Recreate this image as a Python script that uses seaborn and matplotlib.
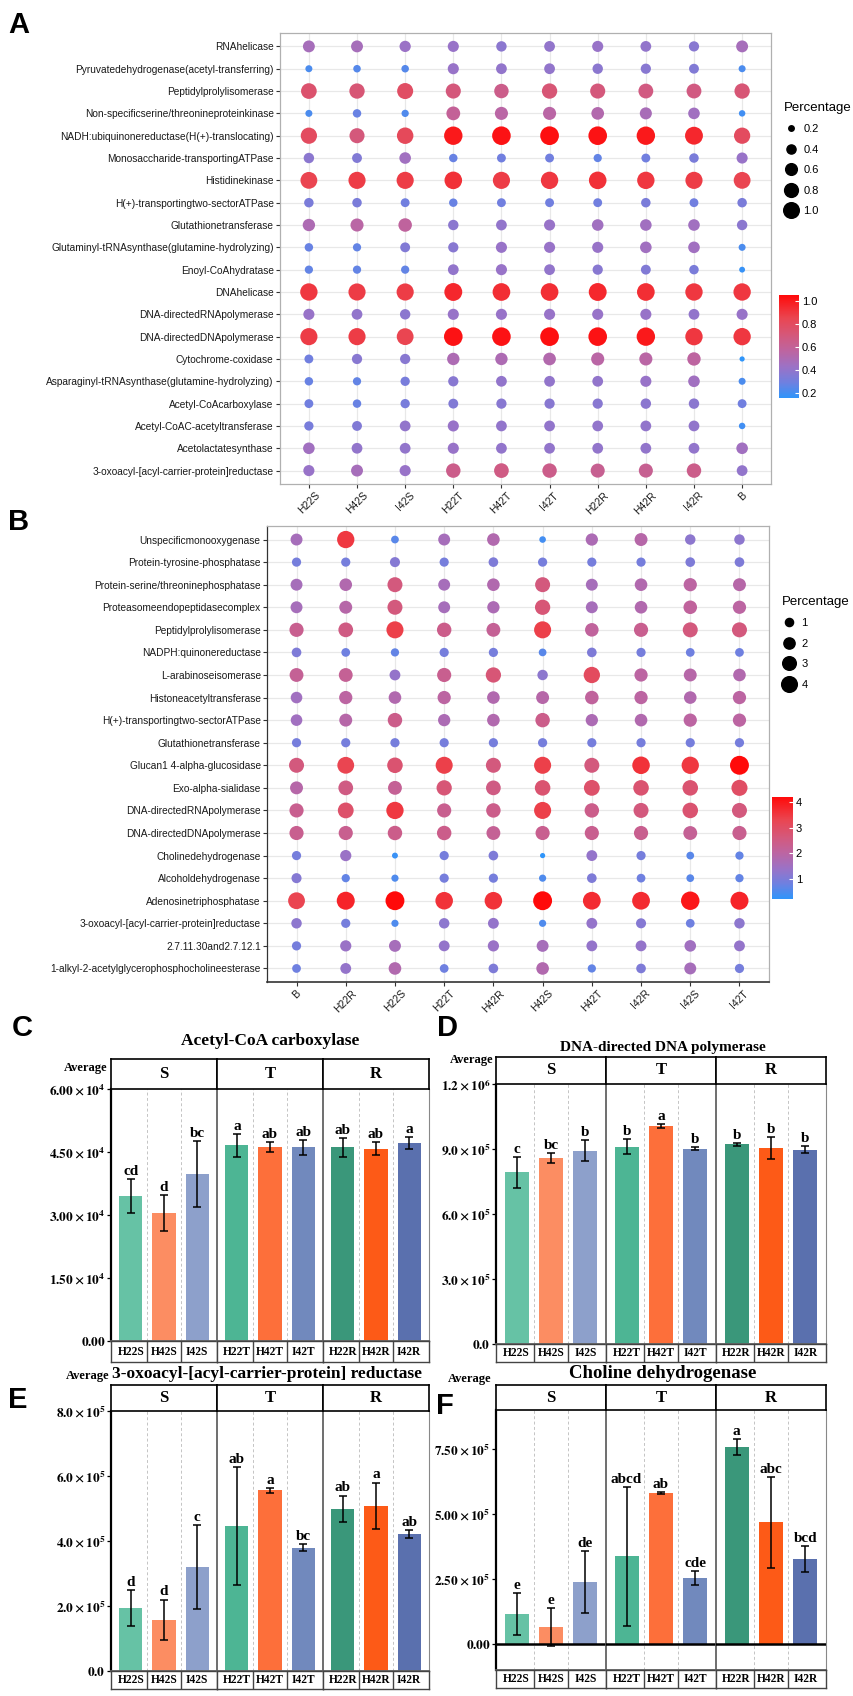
import numpy as np
import pandas as pd
import matplotlib
matplotlib.use("Agg")
import matplotlib.pyplot as plt
import seaborn as sns
from matplotlib.colors import LinearSegmentedColormap, Normalize
from matplotlib.cm import ScalarMappable
from matplotlib.lines import Line2D

# ---------------- data: panel A (dot plot, percentage) ----------------
A_cols = ["H22S", "H42S", "I42S", "H22T", "H42T", "I42T", "H22R", "H42R", "I42R", "B"]
A_rows = [
    "RNAhelicase",
    "Pyruvatedehydrogenase(acetyl-transferring)",
    "Peptidylprolylisomerase",
    "Non-specificserine/threonineproteinkinase",
    "NADH:ubiquinonereductase(H(+)-translocating)",
    "Monosaccharide-transportingATPase",
    "Histidinekinase",
    "H(+)-transportingtwo-sectorATPase",
    "Glutathionetransferase",
    "Glutaminyl-tRNAsynthase(glutamine-hydrolyzing)",
    "Enoyl-CoAhydratase",
    "DNAhelicase",
    "DNA-directedRNApolymerase",
    "DNA-directedDNApolymerase",
    "Cytochrome-coxidase",
    "Asparaginyl-tRNAsynthase(glutamine-hydrolyzing)",
    "Acetyl-CoAcarboxylase",
    "Acetyl-CoAC-acetyltransferase",
    "Acetolactatesynthase",
    "3-oxoacyl-[acyl-carrier-protein]reductase",
]
A_values = [
    [0.47, 0.47, 0.43, 0.42, 0.38, 0.40, 0.42, 0.40, 0.37, 0.47],
    [0.22, 0.24, 0.24, 0.42, 0.40, 0.40, 0.38, 0.37, 0.35, 0.22],
    [0.75, 0.72, 0.78, 0.70, 0.65, 0.72, 0.70, 0.68, 0.68, 0.72],
    [0.22, 0.28, 0.23, 0.60, 0.55, 0.55, 0.52, 0.48, 0.45, 0.20],
    [0.80, 0.70, 0.82, 1.00, 1.02, 1.03, 1.02, 1.00, 0.95, 0.80],
    [0.38, 0.35, 0.45, 0.28, 0.30, 0.30, 0.27, 0.30, 0.33, 0.42],
    [0.85, 0.88, 0.88, 0.92, 0.88, 0.90, 0.92, 0.90, 0.88, 0.85],
    [0.33, 0.33, 0.30, 0.28, 0.30, 0.30, 0.30, 0.33, 0.30, 0.33],
    [0.50, 0.55, 0.58, 0.38, 0.40, 0.42, 0.45, 0.45, 0.45, 0.38],
    [0.28, 0.27, 0.35, 0.37, 0.42, 0.42, 0.42, 0.45, 0.45, 0.22],
    [0.27, 0.27, 0.27, 0.40, 0.42, 0.40, 0.37, 0.35, 0.33, 0.18],
    [0.90, 0.88, 0.88, 0.95, 0.93, 0.93, 0.95, 0.93, 0.90, 0.90],
    [0.42, 0.40, 0.38, 0.42, 0.42, 0.42, 0.42, 0.42, 0.40, 0.42],
    [0.88, 0.88, 0.85, 1.02, 1.02, 1.03, 1.02, 1.00, 0.90, 0.90],
    [0.30, 0.37, 0.37, 0.50, 0.50, 0.52, 0.55, 0.55, 0.57, 0.15],
    [0.28, 0.27, 0.32, 0.37, 0.40, 0.40, 0.40, 0.42, 0.45, 0.22],
    [0.30, 0.28, 0.32, 0.35, 0.37, 0.37, 0.37, 0.38, 0.38, 0.30],
    [0.32, 0.35, 0.40, 0.42, 0.40, 0.40, 0.40, 0.40, 0.40, 0.20],
    [0.45, 0.40, 0.40, 0.42, 0.40, 0.40, 0.40, 0.40, 0.40, 0.45],
    [0.42, 0.47, 0.42, 0.65, 0.67, 0.65, 0.62, 0.62, 0.65, 0.40],
]
A_ticks = [0.2, 0.4, 0.6, 0.8, 1.0]

# ---------------- data: panel B (dot plot, percentage) ----------------
B_cols = ["B", "H22R", "H22S", "H22T", "H42R", "H42S", "H42T", "I42R", "I42S", "I42T"]
B_rows = [
    "Unspecificmonooxygenase",
    "Protein-tyrosine-phosphatase",
    "Protein-serine/threoninephosphatase",
    "Proteasomeendopeptidasecomplex",
    "Peptidylprolylisomerase",
    "NADPH:quinonereductase",
    "L-arabinoseisomerase",
    "Histoneacetyltransferase",
    "H(+)-transportingtwo-sectorATPase",
    "Glutathionetransferase",
    "Glucan1 4-alpha-glucosidase",
    "Exo-alpha-sialidase",
    "DNA-directedRNApolymerase",
    "DNA-directedDNApolymerase",
    "Cholinedehydrogenase",
    "Alcoholdehydrogenase",
    "Adenosinetriphosphatase",
    "3-oxoacyl-[acyl-carrier-protein]reductase",
    "2.7.11.30and2.7.12.1",
    "1-alkyl-2-acetylglycerophosphocholineesterase",
]
B_values = [
    [1.6, 3.5, 0.6, 1.6, 1.8, 0.4, 1.7, 1.9, 1.2, 1.2],
    [0.9, 0.9, 1.1, 0.9, 1.0, 0.9, 0.9, 0.9, 1.0, 1.0],
    [1.6, 1.8, 2.6, 1.6, 1.8, 2.6, 1.6, 1.8, 2.0, 1.9],
    [1.6, 1.9, 2.6, 1.6, 1.7, 2.7, 1.6, 1.8, 2.1, 2.0],
    [2.3, 2.5, 3.4, 2.4, 2.2, 3.4, 2.1, 2.3, 2.6, 2.6],
    [1.0, 0.8, 0.7, 0.9, 0.9, 0.6, 1.0, 0.9, 0.8, 0.8],
    [2.2, 2.2, 1.3, 2.3, 2.7, 1.2, 3.1, 2.0, 1.9, 1.8],
    [1.5, 2.0, 1.8, 2.0, 1.8, 1.9, 2.1, 2.0, 1.8, 2.0],
    [1.5, 1.9, 2.4, 1.7, 1.8, 2.4, 1.7, 1.8, 2.0, 2.0],
    [0.9, 0.9, 0.9, 0.9, 0.9, 0.9, 0.9, 0.9, 0.9, 0.9],
    [2.6, 3.3, 2.8, 3.4, 2.6, 3.4, 2.6, 3.6, 3.5, 4.2],
    [1.9, 2.5, 2.2, 2.7, 2.5, 2.8, 2.9, 2.8, 2.8, 3.0],
    [2.3, 2.9, 3.5, 2.3, 2.4, 3.4, 2.4, 2.6, 2.8, 2.6],
    [2.3, 2.3, 2.4, 2.4, 2.2, 2.3, 2.3, 2.3, 2.2, 2.3],
    [0.9, 1.4, 0.3, 0.9, 1.0, 0.2, 1.3, 0.9, 0.6, 0.7],
    [1.1, 0.7, 0.5, 0.9, 0.9, 0.5, 1.0, 0.8, 0.6, 0.7],
    [3.3, 3.8, 4.2, 3.6, 3.6, 4.2, 3.7, 3.7, 4.0, 3.8],
    [1.2, 0.9, 0.5, 1.2, 1.3, 0.5, 1.3, 1.1, 0.8, 1.2],
    [0.9, 1.4, 1.6, 1.3, 1.4, 1.6, 1.3, 1.3, 1.5, 1.3],
    [0.8, 1.3, 1.8, 0.8, 1.0, 1.8, 0.7, 1.0, 1.6, 0.9],
]
B_ticks = [1, 2, 3, 4]

# ---------------- data: panels C-F (bar charts) ----------------
groups = ["S", "T", "R"]
samples = ["H22S", "H42S", "I42S", "H22T", "H42T", "I42T", "H22R", "H42R", "I42R"]
bar_colors = ["#66C2A5", "#FC8D62", "#8DA0CB",
              "#4DB594", "#FD6F3A", "#7189BD",
              "#3A977A", "#FD5A17", "#5A70AE"]

C_mean = [34500, 30500, 39700, 46600, 46100, 46100, 46100, 45800, 47200]
C_sd = [4100, 4300, 7900, 2800, 1200, 1800, 2200, 1500, 1400]
C_let = ["cd", "d", "bc", "a", "ab", "ab", "ab", "ab", "a"]
C_yticks = [0, 15000, 30000, 45000, 60000]
C_ylabels = ["0.00", "1.50\\times10^{4}", "3.00\\times10^{4}", "4.50\\times10^{4}", "6.00\\times10^{4}"]

D_mean = [792000, 857000, 893000, 911000, 1005000, 902000, 922000, 905000, 897000]
D_sd = [71000, 23000, 49000, 36000, 9000, 7000, 6000, 52000, 15000]
D_let = ["c", "bc", "b", "b", "a", "b", "b", "b", "b"]
D_yticks = [0, 300000, 600000, 900000, 1200000]
D_ylabels = ["0.0", "3.0\\times10^{5}", "6.0\\times10^{5}", "9.0\\times10^{5}", "1.2\\times10^{6}"]

E_mean = [195000, 158000, 320000, 446000, 556000, 380000, 499000, 509000, 422000]
E_sd = [55000, 62000, 130000, 181000, 7000, 11000, 41000, 71000, 13000]
E_let = ["d", "d", "c", "ab", "a", "bc", "ab", "a", "ab"]
E_yticks = [0, 200000, 400000, 600000, 800000]
E_ylabels = ["0.0", "2.0\\times10^{5}", "4.0\\times10^{5}", "6.0\\times10^{5}", "8.0\\times10^{5}"]

F_mean = [115000, 66000, 238000, 337000, 580000, 254000, 758000, 468000, 328000]
F_sd = [80000, 72000, 118000, 268000, 4000, 27000, 31000, 174000, 50000]
F_let = ["e", "e", "de", "abcd", "ab", "cde", "a", "abc", "bcd"]
F_yticks = [0, 250000, 500000, 750000]
F_ylabels = ["0.00", "2.50\\times10^{5}", "5.00\\times10^{5}", "7.50\\times10^{5}"]

# ---------------- style ----------------
plt.rcParams["font.family"] = ["Liberation Sans", "DejaVu Sans"]
plt.rcParams["mathtext.fontset"] = "stix"
SERIF = ["Liberation Serif", "DejaVu Serif"]

W, H = 854, 1696
fig = plt.figure(figsize=(W / 100, H / 100), dpi=100)

cmap = LinearSegmentedColormap.from_list(
    "pct", [(0.0, "#2F95FA"), (0.15, "#6F80E0"), (0.3, "#9B72C6"), (0.45, "#BC65A2"),
            (0.6, "#D3597D"), (0.78, "#EA4550"), (1.0, "#FF0A0A")])


def box(l, t, r, b):
    """pixel rectangle (left, top, right, bottom) -> figure fraction."""
    return [l / W, 1 - b / H, (r - l) / W, (b - t) / H]


def dot_panel(rect, rows, cols, values, vlim, ticks, leg_xy, cbar_rect, dark=False):
    ax = fig.add_axes(box(*rect))
    long = pd.DataFrame([(c, r, v) for r, vals in zip(rows, values) for c, v in zip(cols, vals)],
                        columns=["sample", "enzyme", "pct"])
    norm = Normalize(*vlim)
    sizes = (14, 185)
    sns.scatterplot(data=long, x="sample", y="enzyme", hue="pct", size="pct",
                    palette=cmap, hue_norm=norm, size_norm=norm, sizes=sizes,
                    linewidth=0, legend=False, ax=ax, zorder=3)
    ax.set_xlim(-0.6, len(cols) - 0.4)
    ax.set_ylim(len(rows) - 0.4, -0.6)
    ax.grid(True, color="#e8e8e8", lw=0.9)
    ax.set_axisbelow(True)
    ax.set_xlabel("")
    ax.set_ylabel("")
    for s in ax.spines.values():
        s.set_color("#b0b0b0")
        s.set_linewidth(0.9)
    if dark:
        ax.spines["left"].set_color("#333333")
        ax.spines["bottom"].set_color("#333333")
        ax.spines["bottom"].set_linewidth(1.2)
    ax.tick_params(axis="both", length=3, width=0.8, color="#333333", labelsize=7.3,
                   labelcolor="#1a1a1a", pad=1.5)
    plt.setp(ax.get_xticklabels(), rotation=45, ha="center", fontsize=7.5)

    # size legend
    def area(v):
        return sizes[0] + (v - vlim[0]) / (vlim[1] - vlim[0]) * (sizes[1] - sizes[0])
    handles = [Line2D([], [], ls="", marker="o", color="black", markersize=np.sqrt(area(v)) * 0.85)
               for v in ticks]
    labels = [f"{v:g}" if isinstance(v, int) else f"{v:.1f}" for v in ticks]
    leg = fig.legend(handles, labels, title="Percentage", loc="upper left",
                     bbox_to_anchor=(leg_xy[0] / W, 1 - leg_xy[1] / H),
                     frameon=False, fontsize=8, title_fontsize=9.5,
                     labelspacing=0.95, handletextpad=0.4, borderpad=0, handlelength=1.4)
    leg._legend_box.align = "left"

    cax = fig.add_axes(box(*cbar_rect))
    cb = fig.colorbar(ScalarMappable(norm=norm, cmap=cmap), cax=cax, ticks=ticks)
    cb.outline.set_visible(False)
    cax.tick_params(length=3, width=0.8, color="white", direction="in", labelsize=8, pad=2)
    cax.set_yticklabels(labels)
    return ax


dot_panel((280, 33, 771, 484), A_rows, A_cols, A_values, (0.16, 1.05), A_ticks,
          (778, 96), (779, 295, 799, 398))
dot_panel((267, 526, 769, 982), B_rows, B_cols, B_values, (0.2, 4.2), B_ticks,
          (776, 590), (772, 797, 793, 899), dark=True)


def bar_panel(plot, strip_top, box_bottom, means, sds, letters, ylim, yticks, ylabels,
              title, title_xy, title_size, avg_xy, zero_line=False):
    l, t, r, b = plot
    fw = (r - l) / 3
    for k, g in enumerate(groups):
        idx = slice(3 * k, 3 * k + 3)
        df = pd.DataFrame({"sample": samples[idx], "mean": means[idx], "sd": sds[idx],
                           "letter": letters[idx]})
        pal = dict(zip(samples[idx], bar_colors[idx]))
        ax = fig.add_axes(box(l + k * fw, t, l + (k + 1) * fw, b))
        sns.barplot(data=df, x="sample", y="mean", hue="sample", palette=pal, width=0.7,
                    saturation=1, legend=False, linewidth=0, ax=ax, zorder=2)
        pos = np.arange(len(df))
        ax.errorbar(pos, df["mean"], yerr=df["sd"], fmt="none", ecolor="black",
                    elinewidth=1.1, capsize=3.2, capthick=1.1, zorder=4)
        span = ylim[1] - ylim[0]
        for p, m, s, lt in zip(pos, df["mean"], df["sd"], df["letter"]):
            ax.text(p, m + s + span * 0.004, lt, ha="center", va="bottom",
                    family=SERIF, fontweight="bold", fontsize=11, zorder=5)
        for x in pos[:-1] + 0.5:
            ax.axvline(x, color="#c4c4c4", lw=0.7, ls=(0, (3, 2.5)), zorder=1)
        if zero_line:
            ax.axhline(0, color="black", lw=1.8, zorder=3)
        ax.set_xlim(-0.6, 2.6)
        ax.set_ylim(*ylim)
        ax.set_xlabel("")
        ax.set_ylabel("")
        ax.set_xticks([])
        ax.spines["top"].set_visible(False)
        ax.spines["bottom"].set_color("#666666")
        ax.spines["bottom"].set_linewidth(1.3)
        ax.spines["right"].set_visible(k == 2)
        ax.spines["right"].set_color("#888888")
        if k == 0:
            ax.spines["left"].set_color("black")
            ax.spines["left"].set_linewidth(1.6)
            ax.set_yticks(yticks)
            ax.set_yticklabels([f"$\\mathbf{{{s}}}$" for s in ylabels])
            ax.tick_params(axis="y", length=3, width=0.9, pad=1, labelsize=9.5)
        else:
            ax.spines["left"].set_color("#555555")
            ax.spines["left"].set_linewidth(1.2)
            ax.set_yticks([])

        # facet strip
        sax = fig.add_axes(box(l + k * fw, strip_top, l + (k + 1) * fw, t))
        sax.set_xticks([])
        sax.set_yticks([])
        for s in sax.spines.values():
            s.set_color("black")
            s.set_linewidth(1.2)
        sax.text(0.5, 0.5, g, ha="center", va="center", family=SERIF, fontweight="bold",
                 fontsize=12, transform=sax.transAxes)

        # sample label boxes
        lax = fig.add_axes(box(l + k * fw, b, l + (k + 1) * fw, box_bottom))
        lax.set_xlim(-0.6, 2.6)
        lax.set_ylim(0, 1)
        lax.set_xticks([])
        lax.set_yticks([])
        for s in lax.spines.values():
            s.set_color("#444444")
            s.set_linewidth(1.0)
        for x in pos[:-1] + 0.5:
            lax.axvline(x, color="#444444", lw=1.0)
        for p, smp in zip(pos, df["sample"]):
            lax.text(p, 0.48, smp, ha="center", va="center", family=SERIF,
                     fontweight="bold", fontsize=8.3)

    fig.text(title_xy[0] / W, 1 - title_xy[1] / H, title, ha="center", va="center",
             family=SERIF, fontweight="bold", fontsize=title_size)
    fig.text(avg_xy[0] / W, 1 - avg_xy[1] / H, "Average", ha="right", va="center",
             family=SERIF, fontweight="bold", fontsize=9)


bar_panel((111, 1089, 429, 1341), 1059, 1362, C_mean, C_sd, C_let, (0, 60000),
          C_yticks, C_ylabels, "Acetyl-CoA carboxylase", (270, 1041), 12.5, (108, 1068))
bar_panel((496, 1084, 826, 1344), 1057, 1362, D_mean, D_sd, D_let, (0, 1200000),
          D_yticks, D_ylabels, "DNA-directed DNA polymerase", (663, 1047), 11, (494, 1060))
bar_panel((111, 1411, 429, 1671), 1385, 1689, E_mean, E_sd, E_let, (0, 800000),
          E_yticks, E_ylabels, "3-oxoacyl-[acyl-carrier-protein] reductase", (267, 1374), 12.5,
          (110, 1376))
bar_panel((496, 1410, 826, 1670), 1385, 1688, F_mean, F_sd, F_let, (-100000, 900000),
          F_yticks, F_ylabels, "Choline dehydrogenase", (663, 1374), 13.5, (492, 1379),
          zero_line=True)

# panel letters
for letter, x, y in [("A", 19, 25), ("B", 19, 522), ("C", 22, 1028), ("D", 448, 1028),
                     ("E", 18, 1400), ("F", 445, 1406)]:
    fig.text(x / W, 1 - y / H, letter, ha="center", va="center", fontsize=21,
             fontweight="bold")

fig.savefig("out.png", dpi=100)
